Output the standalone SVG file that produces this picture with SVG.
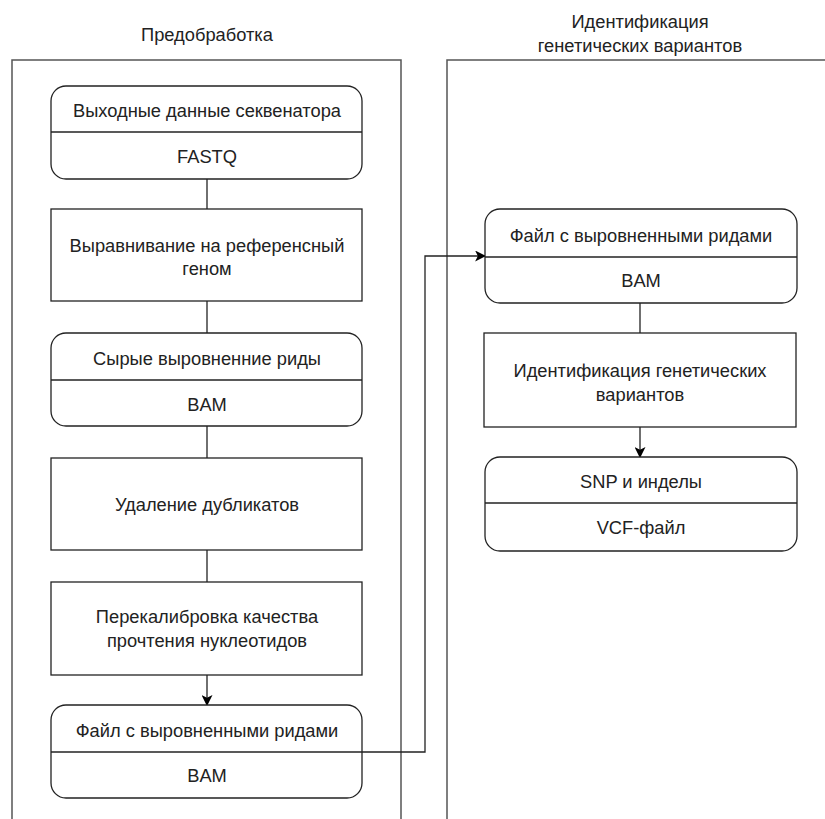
<svg xmlns="http://www.w3.org/2000/svg" width="825" height="819" viewBox="0 0 825 819">
<defs>
<style>
.t{font-family:"Liberation Sans",Arial,sans-serif;font-size:18.3px;fill:#222;text-anchor:middle;dominant-baseline:central}
.b{fill:#fff;stroke:#222;stroke-width:1.3}
.c{fill:none;stroke:#555;stroke-width:1.5}
.l{fill:none;stroke:#222;stroke-width:1.3}
</style>
<marker id="a" viewBox="0 0 10 10" refX="9" refY="5" markerWidth="11" markerHeight="11" markerUnits="userSpaceOnUse" orient="auto"><path d="M0,0 L10,5 L0,10 L2.5,5 Z" fill="#000"/></marker>
</defs>
<rect width="825" height="819" fill="#fff"/>
<g id="containers">
<path class="c" d="M12,819 V60 H401 V819"/>
<path class="c" d="M447,819 V60 H825"/>
<text class="t" x="207" y="34">Предобработка</text>
<text class="t" x="640" y="21">Идентификация</text>
<text class="t" x="640" y="45">генетических вариантов</text>
</g>
<g id="connectors">
<line class="l" x1="207" y1="179" x2="207" y2="209"/>
<line class="l" x1="207" y1="301" x2="207" y2="333"/>
<line class="l" x1="207" y1="426" x2="207" y2="458"/>
<line class="l" x1="207" y1="550" x2="207" y2="582"/>
<line class="l" x1="207" y1="675" x2="207" y2="705" marker-end="url(#a)"/>
<path class="l" d="M362,752 H425 V256 H485" marker-end="url(#a)"/>
<line class="l" x1="640" y1="303" x2="640" y2="333"/>
<line class="l" x1="640" y1="427" x2="640" y2="457" marker-end="url(#a)"/>
</g>
<g id="n1">
<rect class="b" x="51" y="86" width="311" height="93" rx="15"/>
<line class="l" x1="51" y1="132" x2="362" y2="132"/>
<text class="t" x="207" y="110">Выходные данные секвенатора</text>
<text class="t" x="207" y="156">FASTQ</text>
</g>
<g id="n2">
<rect class="b" x="51" y="209" width="311" height="92"/>
<text class="t" x="207" y="245">Выравнивание на референсный</text>
<text class="t" x="207" y="268">геном</text>
</g>
<g id="n3">
<rect class="b" x="51" y="333" width="311" height="93" rx="15"/>
<line class="l" x1="51" y1="380" x2="362" y2="380"/>
<text class="t" x="207" y="358">Сырые выровненние риды</text>
<text class="t" x="207" y="404">BAM</text>
</g>
<g id="n4">
<rect class="b" x="51" y="458" width="311" height="92"/>
<text class="t" x="207" y="504">Удаление дубликатов</text>
</g>
<g id="n5">
<rect class="b" x="51" y="582" width="311" height="93"/>
<text class="t" x="207" y="616">Перекалибровка качества</text>
<text class="t" x="207" y="640">прочтения нуклеотидов</text>
</g>
<g id="n6">
<rect class="b" x="51" y="705" width="311" height="93" rx="15"/>
<line class="l" x1="51" y1="752" x2="362" y2="752"/>
<text class="t" x="207" y="730">Файл с выровненными ридами</text>
<text class="t" x="207" y="775">BAM</text>
</g>
<g id="n7">
<rect class="b" x="485" y="209" width="312" height="94" rx="15"/>
<line class="l" x1="485" y1="257" x2="797" y2="257"/>
<text class="t" x="641" y="235">Файл с выровненными ридами</text>
<text class="t" x="641" y="280">BAM</text>
</g>
<g id="n8">
<rect class="b" x="484" y="333" width="312" height="94"/>
<text class="t" x="640" y="370">Идентификация генетических</text>
<text class="t" x="640" y="394">вариантов</text>
</g>
<g id="n9">
<rect class="b" x="485" y="457" width="312" height="94" rx="15"/>
<line class="l" x1="485" y1="503" x2="797" y2="503"/>
<text class="t" x="641" y="481">SNP и инделы</text>
<text class="t" x="641" y="527">VCF-файл</text>
</g>
</svg>
